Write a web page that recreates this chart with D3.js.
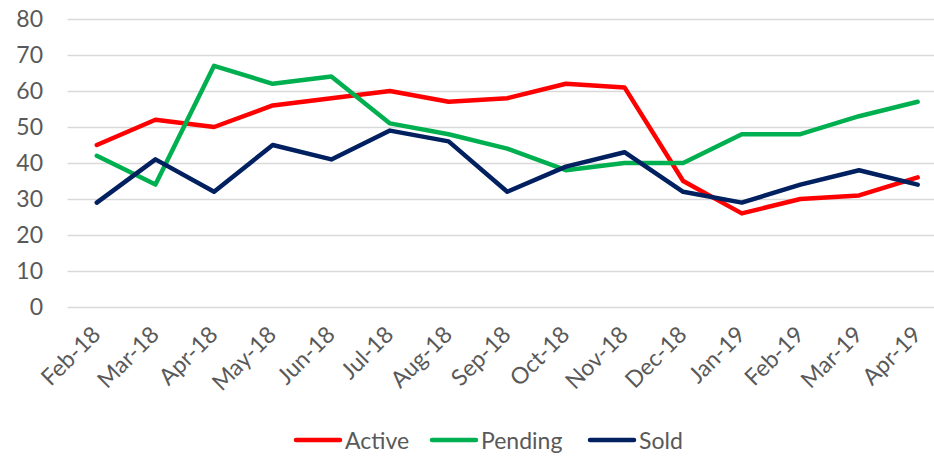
<!DOCTYPE html>
<html>
<head>
<meta charset="utf-8">
<script src="https://d3js.org/d3.v7.min.js"></script>
<style>
  body { margin: 0; background: #fff; }
  svg { display: block; font-family: Lato, "Open Sans", sans-serif; }
</style>
</head>
<body>
<div id="chart"></div>
<script>
var months = ["Feb-18", "Mar-18", "Apr-18", "May-18", "Jun-18", "Jul-18", "Aug-18",
  "Sep-18", "Oct-18", "Nov-18", "Dec-18", "Jan-19", "Feb-19", "Mar-19", "Apr-19"];

var active  = [45, 52, 50, 56, 58, 60, 57, 58, 62, 61, 35, 26, 30, 31, 36];
var pending = [42, 34, 67, 62, 64, 51, 48, 44, 38, 40, 40, 48, 48, 53, 57];
var sold    = [29, 41, 32, 45, 41, 49, 46, 32, 39, 43, 32, 29, 34, 38, 34];

var yTicks = [0, 10, 20, 30, 40, 50, 60, 70, 80];

var seriesNames = ["Active", "Pending", "Sold"];
var seriesColors = ["#FF0000", "#00B050", "#002060"];

var width = 934, height = 456;

var svg = d3.select("#chart")
  .append("svg")
  .attr("width", width)
  .attr("height", height);

// scales
var x = d3.scaleBand()
  .domain(months)
  .range([67.5, 947]);

var y = d3.scaleLinear()
  .domain([0, 80])
  .range([307, 19]);

// gridlines
svg.append("g")
  .selectAll("line")
  .data(yTicks)
  .enter()
  .append("line")
  .attr("x1", 67.5)
  .attr("x2", 947)
  .attr("y1", function(d) { return Math.round(y(d)) + 0.5; })
  .attr("y2", function(d) { return Math.round(y(d)) + 0.5; })
  .attr("stroke", "#D9D9D9")
  .attr("stroke-width", 1.3);

// y axis labels
var yAxis = svg.append("g")
  .attr("transform", "translate(55,0)")
  .call(d3.axisLeft(y).tickValues(yTicks).tickSize(0).tickPadding(12));
yAxis.select(".domain").remove();
yAxis.selectAll("text")
  .attr("fill", "#595959")
  .style("font-size", "23px")
  .style("font-family", "Lato, 'Open Sans', sans-serif");

// x axis labels
svg.append("g")
  .selectAll("text")
  .data(months)
  .enter()
  .append("text")
  .attr("transform", function(d) {
    return "translate(" + (x(d) + x.bandwidth() / 2 + 5) + ",336) rotate(-45)";
  })
  .attr("text-anchor", "end")
  .attr("fill", "#595959")
  .style("font-size", "23px")
  .text(function(d) { return d; });

// lines
var line = d3.line()
  .x(function(d, i) { return x(months[i]) + x.bandwidth() / 2; })
  .y(function(d) { return y(d); });

var allSeries = [active, pending, sold];

svg.append("g")
  .selectAll("path")
  .data(allSeries)
  .enter()
  .append("path")
  .attr("d", line)
  .attr("fill", "none")
  .attr("stroke", function(d, i) { return seriesColors[i]; })
  .attr("stroke-width", 4.5)
  .attr("stroke-linejoin", "round")
  .attr("stroke-linecap", "round");

// legend
var legendX = [296, 432, 590];
var legend = svg.append("g")
  .selectAll("g")
  .data(seriesNames)
  .enter()
  .append("g")
  .attr("transform", function(d, i) { return "translate(" + legendX[i] + ",440)"; });

legend.append("line")
  .attr("x1", 0)
  .attr("x2", 44)
  .attr("y1", 0)
  .attr("y2", 0)
  .attr("stroke", function(d, i) { return seriesColors[i]; })
  .attr("stroke-width", 4.5)
  .attr("stroke-linecap", "round");

legend.append("text")
  .attr("x", 49)
  .attr("y", 8.5)
  .attr("fill", "#595959")
  .style("font-size", "23px")
  .text(function(d) { return d; });
</script>
</body>
</html>
